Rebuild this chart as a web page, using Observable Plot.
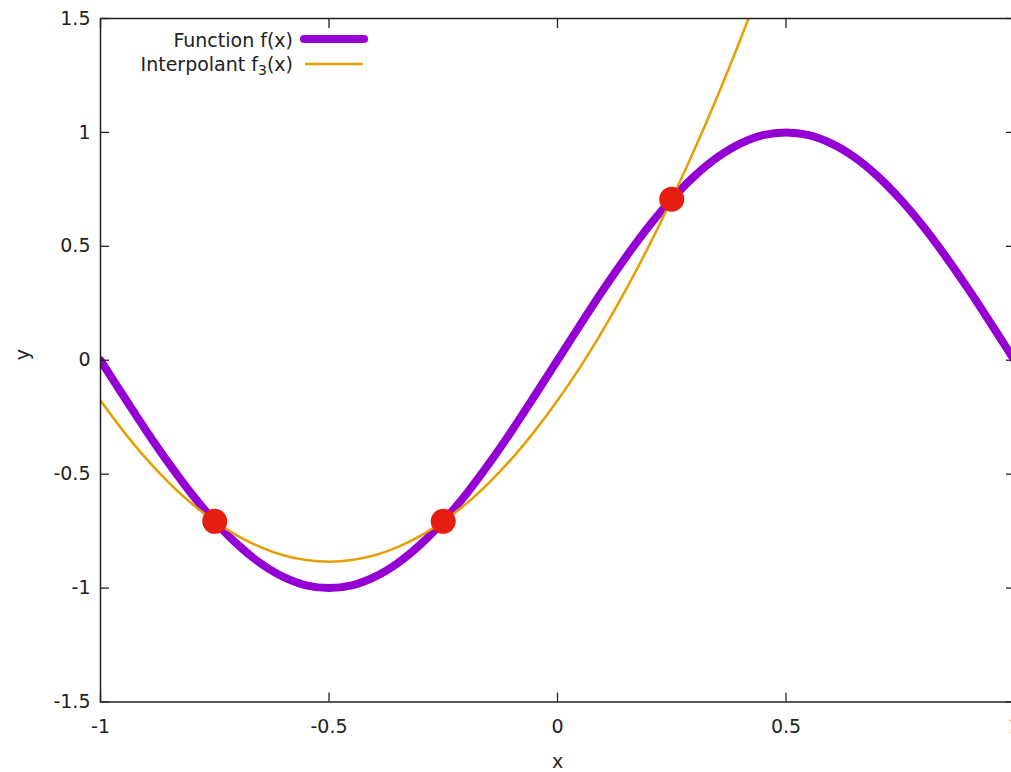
<!DOCTYPE html>
<html>
<head>
<meta charset="utf-8">
<script src="https://cdn.jsdelivr.net/npm/d3@7"></script>
<script src="https://cdn.jsdelivr.net/npm/@observablehq/plot@0.6"></script>
<style>
  body { margin: 0; background: white; }
  #wrap { position: relative; width: 1011px; height: 772px; overflow: hidden; font-family: "DejaVu Sans", sans-serif; }
  #legend { position: absolute; left: 0; top: 0; font-size: 19px; color: #222; }
  .row { position: absolute; white-space: nowrap; text-align: right; }
  sub { font-size: 14px; vertical-align: -4px; line-height: 0; }
</style>
</head>
<body>
<div id="wrap">
  <div id="chart"></div>
  <div id="legend">
    <div class="row" style="right:-293px; width:300px; top:29px;">Function f(x)</div>
    <div class="row" style="right:-293px; width:300px; top:53px;">Interpolant f<sub>3</sub>(x)</div>
    <svg style="position:absolute; left:298px; top:28px;" width="72" height="50">
      <line x1="6" y1="11" x2="66" y2="11" stroke="#9400d3" stroke-width="8" stroke-linecap="round"/>
      <line x1="7" y1="36" x2="65" y2="36" stroke="#e69f00" stroke-width="2.5"/>
    </svg>
  </div>
</div>
<script>
// Function f(x) samples
const fX = [-1,-0.95,-0.9,-0.85,-0.8,-0.75,-0.7,-0.65,-0.6,-0.55,-0.5,-0.45,-0.4,-0.35,-0.3,-0.25,-0.2,-0.15,-0.1,-0.05,0,
            0.05,0.1,0.15,0.2,0.25,0.3,0.35,0.4,0.45,0.5,0.55,0.6,0.65,0.7,0.75,0.8,0.85,0.9,0.95,1];
const fY = [0,-0.156,-0.309,-0.454,-0.588,-0.707,-0.809,-0.891,-0.951,-0.988,-1,-0.988,-0.951,-0.891,-0.809,-0.707,-0.588,-0.454,-0.309,-0.156,0,
            0.156,0.309,0.454,0.588,0.707,0.809,0.891,0.951,0.988,1,0.988,0.951,0.891,0.809,0.707,0.588,0.454,0.309,0.156,0];
// Interpolant f3(x) samples
const pX = [-1,-0.95,-0.9,-0.85,-0.8,-0.75,-0.7,-0.65,-0.6,-0.55,-0.5,-0.45,-0.4,-0.35,-0.3,-0.25,-0.2,-0.15,-0.1,-0.05,0,
            0.05,0.1,0.15,0.2,0.25,0.3,0.35,0.4,0.45];
const pY = [-0.177,-0.311,-0.432,-0.538,-0.630,-0.707,-0.771,-0.820,-0.856,-0.877,-0.884,-0.877,-0.856,-0.820,-0.771,-0.707,-0.630,-0.538,-0.432,-0.311,-0.177,
            -0.029,0.134,0.311,0.502,0.707,0.926,1.159,1.407,1.668];
// Interpolation nodes
const nodeX = [-0.75, -0.25, 0.25];
const nodeY = [-0.707, -0.707, 0.707];
// Ticks
const xTicks = [-1, -0.5, 0, 0.5, 1];
const yTicks = [-1.5, -1, -0.5, 0, 0.5, 1, 1.5];
const xTickLabels = ["-1", "-0.5", "0", "0.5", "1"];
const yTickLabels = ["-1.5", "-1", "-0.5", "0", "0.5", "1", "1.5"];

const fData = fX.map((x, i) => ({x, y: fY[i]}));
const pData = pX.map((x, i) => ({x, y: pY[i]}));
const nodes = nodeX.map((x, i) => ({x, y: nodeY[i]}));

const axisColor = "#222";
const inward = (opts) => ({tickSize: -9, tickFormat: () => "", label: null, stroke: axisColor, strokeWidth: 1.3, ...opts});

const chart = Plot.plot({
  width: 1011,
  height: 772,
  marginLeft: 100,
  marginRight: -3,
  marginTop: 18,
  marginBottom: 70.5,
  style: {fontFamily: "DejaVu Sans, sans-serif", fontSize: "19px", color: "#222", background: "white", maxWidth: "none"},
  x: {domain: [-1, 1]},
  y: {domain: [-1.5, 1.5]},
  marks: [
    Plot.line(fData, {x: "x", y: "y", stroke: "#9400d3", strokeWidth: 8, strokeLinecap: "round", curve: "catmull-rom", clip: true}),
    Plot.line(pData, {x: "x", y: "y", stroke: "#e69f00", strokeWidth: 2.5, curve: "catmull-rom", clip: true}),
    Plot.dot(nodes, {x: "x", y: "y", r: 12.5, fill: "#e51e10", stroke: "none"}),
    Plot.frame({stroke: axisColor, strokeWidth: 1.5}),
    Plot.axisX(xTicks, inward({anchor: "bottom"})),
    Plot.axisX(xTicks, inward({anchor: "top"})),
    Plot.axisY(yTicks, inward({anchor: "left"})),
    Plot.axisY(yTicks, inward({anchor: "right"})),
    Plot.axisX(xTicks, {anchor: "bottom", tickSize: 0, tickPadding: 17, tickFormat: (d, i) => xTickLabels[i], label: null}),
    Plot.axisY(yTicks, {anchor: "left", tickSize: 0, tickPadding: 10, tickFormat: (d, i) => yTickLabels[i], label: null}),
    Plot.text(["x"], {frameAnchor: "bottom", dy: 66, lineAnchor: "bottom", fontSize: 19, fill: "#222"}),
    Plot.text(["y"], {frameAnchor: "left", dx: -78, rotate: -90, fontSize: 19, fill: "#222"})
  ]
});
document.getElementById("chart").appendChild(chart);
</script>
</body>
</html>
